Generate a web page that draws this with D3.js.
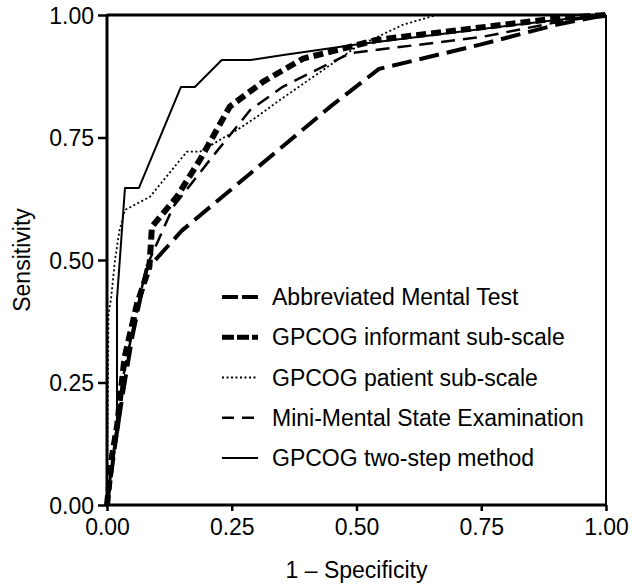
<!DOCTYPE html>
<html><head><meta charset="utf-8">
<script src="https://cdn.jsdelivr.net/npm/d3@7/dist/d3.min.js"></script>
<style>
body{margin:0;background:#fff;}
text{font-family:"Liberation Sans",Arial,Helvetica,sans-serif;fill:#000;}
</style></head>
<body><svg id="c" width="632" height="584"></svg>
<script>
const seriesNames = ["Abbreviated Mental Test","GPCOG informant sub-scale","GPCOG patient sub-scale","Mini-Mental State Examination","GPCOG two-step method"];
const xTicks = [0,0.25,0.5,0.75,1];
const yTicks = [0,0.25,0.5,0.75,1];
const xLabel = "1 – Specificity";
const yLabel = "Sensitivity";

// points [1-specificity, sensitivity]
const amt = [[0,0],[0.006,0.045],[0.02,0.15],[0.033,0.235],[0.052,0.35],[0.079,0.48],[0.15,0.56],[0.25,0.645],[0.35,0.73],[0.45,0.815],[0.545,0.89],[0.75,0.94],[0.9,0.98],[1,1]];
const informant = [[0,0],[0.01,0.1],[0.02,0.16],[0.035,0.3],[0.06,0.41],[0.085,0.486],[0.09,0.568],[0.14,0.629],[0.186,0.704],[0.246,0.813],[0.313,0.864],[0.393,0.911],[0.487,0.935],[0.54,0.949],[0.9,0.993],[1,1]];
const patient = [[0,0],[0.003,0.39],[0.008,0.42],[0.016,0.5],[0.025,0.56],[0.036,0.602],[0.086,0.629],[0.16,0.721],[0.186,0.721],[0.26,0.765],[0.3,0.792],[0.347,0.827],[0.5,0.935],[0.593,0.98],[0.66,1],[1,1]];
const mmse = [[0,0],[0.015,0.12],[0.03,0.25],[0.05,0.35],[0.079,0.486],[0.133,0.609],[0.206,0.704],[0.26,0.772],[0.287,0.806],[0.353,0.854],[0.487,0.922],[0.55,0.93],[0.75,0.955],[0.9,0.985],[1,1]];
const twoStep = [[0,0],[0.005,0.05],[0.02,0.15],[0.02,0.42],[0.036,0.647],[0.064,0.647],[0.148,0.853],[0.176,0.853],[0.23,0.908],[0.287,0.908],[0.35,0.918],[0.5,0.94],[0.9,0.99],[1,1]];

const allSeries = [amt, informant, patient, mmse, twoStep];
const styles = [
  {w:4, dash:"20,8", legDash:"16,4"},
  {w:6, dash:"10,5", legDash:"12,3"},
  {w:1.8, dash:"2,2.5", legDash:"2,2.5"},
  {w:2.5, dash:"14,8", legDash:"12,8"},
  {w:2, dash:null, legDash:null}
];

const svg = d3.select("#c");
const L=107, R=606, T=15, B=505;
const x = d3.scaleLinear().domain([0,1]).range([L,R]);
const y = d3.scaleLinear().domain([0,1]).range([B,T]);

// frame top/right
svg.append("line").attr("x1",L).attr("x2",R).attr("y1",T).attr("y2",T).attr("stroke","#000").attr("stroke-width",3);
svg.append("line").attr("x1",R).attr("x2",R).attr("y1",T).attr("y2",B).attr("stroke","#000").attr("stroke-width",2);

const line = d3.line().x(d=>x(d[0])).y(d=>y(d[1]));
allSeries.forEach((s,i)=>{
  const st = styles[i];
  const p = svg.append("path").datum(s).attr("d",line).attr("fill","none")
    .attr("stroke","#000").attr("stroke-width",st.w).attr("stroke-linejoin","round");
  if(st.dash) p.attr("stroke-dasharray",st.dash);
});

// axes
const xAxis = d3.axisBottom(x).tickValues(xTicks).tickFormat(d3.format(".2f")).tickSize(6).tickPadding(8);
const yAxis = d3.axisLeft(y).tickValues(yTicks).tickFormat(d3.format(".2f")).tickSize(9).tickPadding(4);
const gx = svg.append("g").attr("transform",`translate(0,${B})`).call(xAxis);
const gy = svg.append("g").attr("transform",`translate(${L},0)`).call(yAxis);
[gx,gy].forEach(g=>{
  g.select(".domain").attr("stroke","#000").attr("stroke-width",3);
  g.selectAll(".tick line").attr("stroke","#000").attr("stroke-width",2.5);
  g.selectAll(".tick text").attr("font-size",23).attr("font-family",null);
});
gx.select(".domain").attr("d",`M${L-1},0H${R+1}`);
gy.select(".domain").attr("d",`M0,${B+1}V${T-1}`);
gy.selectAll(".tick text").attr("dy","0.35em");

svg.append("text").attr("x",(L+R)/2).attr("y",578).attr("text-anchor","middle").attr("font-size",23).text(xLabel);
svg.append("text").attr("transform",`translate(30,${(T+B)/2}) rotate(-90)`).attr("text-anchor","middle").attr("font-size",23).text(yLabel);

// legend
const legY = d3.scaleLinear().domain([0,4]).range([297,458]);
seriesNames.forEach((n,i)=>{
  const st = styles[i];
  const yy = legY(i);
  const l = svg.append("line").attr("x1",222).attr("x2",258).attr("y1",yy).attr("y2",yy)
    .attr("stroke","#000").attr("stroke-width",Math.min(st.w,5));
  if(st.legDash) l.attr("stroke-dasharray",st.legDash);
  svg.append("text").attr("x",272).attr("y",yy).attr("dy","0.35em").attr("font-size",23).text(n);
});
</script></body></html>
